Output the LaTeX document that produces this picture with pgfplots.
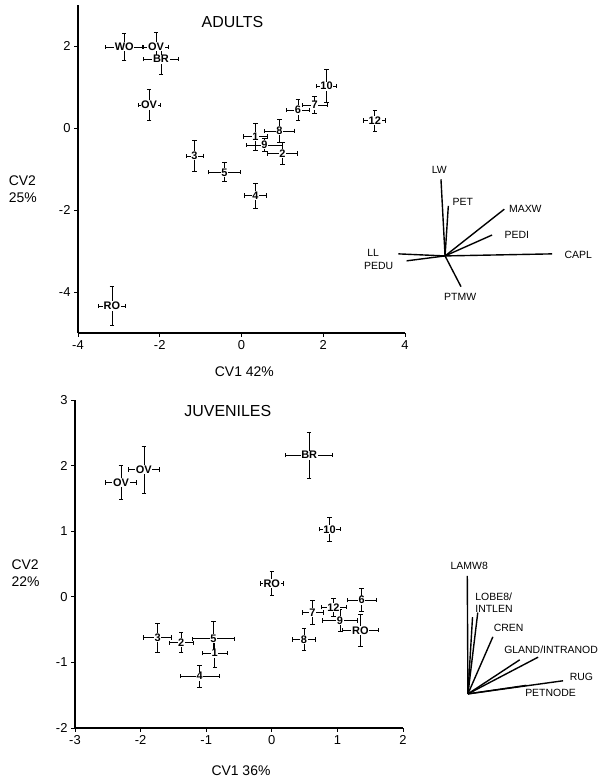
\documentclass[border=0pt]{standalone}
\usepackage{fontspec}
\setmainfont{Liberation Sans}
\usepackage{pgfplots}
\usepackage{pgfplotstable}
\pgfplotsset{compat=1.18}

% group means with error bars (x, y, x error, y error, label)
\pgfplotstableread{
x y ex ey lab
-2.87 1.98 0.45 0.33 WO
-2.09 1.98 0.31 0.36 OV
-1.97 1.68 0.42 0.38 BR
-2.26 0.56 0.27 0.38 OV
2.08 1.02 0.25 0.40 10
1.79 0.56 0.31 0.20 7
1.38 0.44 0.29 0.26 6
3.26 0.18 0.27 0.26 12
0.93 -0.07 0.37 0.27 8
0.34 -0.21 0.29 0.33 1
0.56 -0.41 0.43 0.15 9
1.00 -0.62 0.37 0.26 2
-1.15 -0.68 0.21 0.38 3
-0.42 -1.08 0.40 0.23 5
0.34 -1.65 0.28 0.30 4
-3.17 -4.34 0.34 0.47 RO
}\adults

\pgfplotstableread{
x y ex ey lab
-1.95 1.94 0.23 0.36 OV
-2.30 1.74 0.23 0.26 OV
0.57 2.16 0.36 0.35 BR
0.88 1.03 0.16 0.18 10
0.00 0.20 0.18 0.18 RO
1.37 -0.05 0.22 0.18 6
0.94 -0.16 0.19 0.14 12
0.62 -0.24 0.16 0.18 7
1.04 -0.36 0.27 0.17 9
1.35 -0.51 0.27 0.24 RO
0.49 -0.65 0.18 0.17 8
-1.74 -0.62 0.21 0.22 3
-1.38 -0.70 0.18 0.15 2
-0.89 -0.64 0.32 0.27 5
-0.87 -0.86 0.19 0.21 1
-1.10 -1.21 0.30 0.17 4
}\juveniles

\pgfplotsset{
  cvastyle/.style={
    scale only axis,
    clip=false,
    axis x line*=bottom,
    axis y line*=left,
    axis line style={-, line width=1.2pt},
    tick align=outside,
    major tick length=4pt,
    tick style={black, line width=0.8pt},
    tick label style={font=\fontsize{13}{13}\selectfont},
    /pgf/number format/assume math mode=true,
  },
  grp/.style={
    only marks, mark=none, black,
    error bars/.cd,
      x dir=both, x explicit,
      y dir=both, y explicit,
      error bar style={line width=0.6pt, black},
      error mark options={rotate=90, mark size=2.2pt, line width=0.8pt, black},
    /pgfplots/.cd,
    point meta=explicit symbolic,
    nodes near coords,
    every node near coord/.append style={
      anchor=center, fill=white, inner sep=0.7pt,
      font=\fontsize{11}{11}\selectfont\bfseries, text=black},
  },
  vec/.style={black, line width=1.4pt, no marks},
}

\begin{document}
\begin{tikzpicture}
\useasboundingbox (0,0) rectangle (604bp,-777bp);

\begin{axis}[
  cvastyle,
  at={(78bp,-333bp)}, anchor=south west,
  width=327bp, height=328bp,
  xmin=-4, xmax=4, ymin=-5, ymax=3,
  xtick={-4,-2,0,2,4}, ytick={-4,-2,0,2},
]
\addplot[grp] table[x=x, y=y, x error=ex, y error=ey, meta=lab] {\adults};

% structure vectors
\addplot[vec] coordinates {(4.98,-3.12) (4.88,-1.25)};
\addplot[vec] coordinates {(4.98,-3.12) (5.06,-1.90)};
\addplot[vec] coordinates {(4.98,-3.12) (6.43,-1.98)};
\addplot[vec] coordinates {(4.98,-3.12) (6.13,-2.61)};
\addplot[vec] coordinates {(4.98,-3.12) (7.60,-3.07)};
\addplot[vec] coordinates {(4.98,-3.12) (3.84,-3.07)};
\addplot[vec] coordinates {(4.98,-3.12) (4.04,-3.24)};
\addplot[vec] coordinates {(4.98,-3.12) (5.37,-3.87)};

\begin{scope}[every node/.style={font=\fontsize{10.5}{12}\selectfont}]
\node at (axis cs:4.84,-1.01) {LW};
\node[anchor=west] at (axis cs:5.08,-1.80) {PET};
\node[anchor=west] at (axis cs:6.46,-1.98) {MAXW};
\node[anchor=west] at (axis cs:6.35,-2.61) {PEDI};
\node[anchor=west] at (axis cs:7.82,-3.10) {CAPL};
\node[anchor=east] at (axis cs:3.45,-3.04) {LL};
\node[anchor=east] at (axis cs:3.80,-3.37) {PEDU};
\node at (axis cs:5.35,-4.12) {PTMW};
\end{scope}

\node[font=\fontsize{16}{16}\selectfont] at (axis cs:-0.22,2.59) {ADULTS};
\node[font=\fontsize{14}{14}\selectfont] at (axis cs:0.07,-5.95) {CV1 42\%};
\node[anchor=west, align=left, font=\fontsize{14}{17}\selectfont] at (axis cs:-5.78,-1.49) {CV2\\25\%};
\end{axis}

\begin{axis}[
  cvastyle,
  at={(75bp,-728bp)}, anchor=south west,
  width=328bp, height=328bp,
  xmin=-3, xmax=2, ymin=-2, ymax=3,
  xtick={-3,-2,-1,0,1,2}, ytick={-2,-1,0,1,2,3},
]
\addplot[grp] table[x=x, y=y, x error=ex, y error=ey, meta=lab] {\juveniles};

\addplot[vec] coordinates {(2.99,-1.48) (2.98,0.32)};
\addplot[vec] coordinates {(2.99,-1.48) (3.06,-0.31)};
\addplot[vec] coordinates {(2.99,-1.48) (3.14,-0.24)};
\addplot[vec] coordinates {(2.99,-1.48) (3.37,-0.61)};
\addplot[vec] coordinates {(2.99,-1.48) (3.78,-0.96)};
\addplot[vec] coordinates {(2.99,-1.48) (4.06,-0.92)};
\addplot[vec] coordinates {(2.99,-1.48) (4.44,-1.28)};
\addplot[vec] coordinates {(2.99,-1.48) (3.88,-1.35)};

\begin{scope}[every node/.style={font=\fontsize{10.5}{12}\selectfont}]
\node at (axis cs:3.01,0.47) {LAMW8};
\node[anchor=west, align=left] at (axis cs:3.05,-0.09) {LOBE8/\\INTLEN};
\node[anchor=west] at (axis cs:3.33,-0.47) {CREN};
\node[anchor=west] at (axis cs:3.49,-0.80) {GLAND/INTRANOD};
\node[anchor=west] at (axis cs:4.49,-1.22) {RUG};
\node[anchor=west] at (axis cs:3.81,-1.46) {PETNODE};
\end{scope}

\node[font=\fontsize{16}{16}\selectfont] at (axis cs:-0.67,2.83) {JUVENILES};
\node[font=\fontsize{14}{14}\selectfont] at (axis cs:-0.47,-2.65) {CV1 36\%};
\node[anchor=west, align=left, font=\fontsize{14}{17}\selectfont] at (axis cs:-4.02,0.36) {CV2\\22\%};
\end{axis}
\end{tikzpicture}
\end{document}
